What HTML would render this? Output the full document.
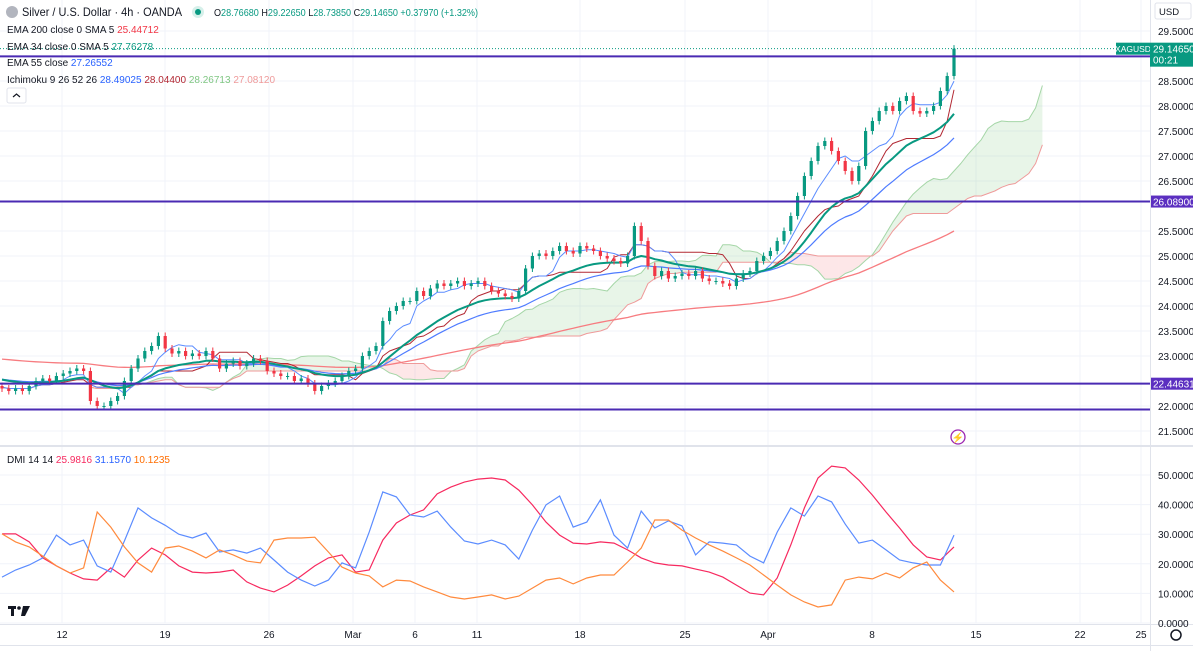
<!DOCTYPE html>
<html><head><meta charset="utf-8">
<style>
html,body{margin:0;padding:0;background:#fff;width:1193px;height:651px;overflow:hidden;font-family:"Liberation Sans",sans-serif;}
svg{display:block}
text{font-family:"Liberation Sans",sans-serif;}
</style></head>
<body>
<svg id="chart" width="1193" height="651" viewBox="0 0 1193 651">
  <g id="grid"></g>
  <g id="cloud"></g>
  <g id="lines"></g>
  <g id="candles"></g>
  <g id="levels"></g>
  <g id="dmi"></g>
  <g id="axes"></g>
  <g id="legend">
    <circle cx="12" cy="12" r="6" fill="#b2b5be"/>
    <text x="22" y="16" font-size="12" fill="#131722" textLength="160" lengthAdjust="spacingAndGlyphs">Silver / U.S. Dollar · 4h · OANDA</text>
    <circle cx="198" cy="12" r="6" fill="#d6f0ea"/>
    <circle cx="198" cy="12" r="3" fill="#089981"/>
    <text x="214" y="16" font-size="10.5" fill="#089981" textLength="264" lengthAdjust="spacingAndGlyphs"><tspan fill="#131722">O</tspan>28.76680 <tspan fill="#131722">H</tspan>29.22650 <tspan fill="#131722">L</tspan>28.73850 <tspan fill="#131722">C</tspan>29.14650 +0.37970 (+1.32%)</text>
    <text x="7" y="33" font-size="10" fill="#131722">EMA 200 close 0 SMA 5 <tspan fill="#f23645">25.44712</tspan></text>
    <text x="7" y="50" font-size="10" fill="#131722">EMA 34 close 0 SMA 5 <tspan fill="#089981">27.76278</tspan></text>
    <text x="7" y="66" font-size="10" fill="#131722">EMA 55 close <tspan fill="#2962ff">27.26552</tspan></text>
    <text x="7" y="83" font-size="10" fill="#131722">Ichimoku 9 26 52 26 <tspan fill="#2962ff">28.49025</tspan> <tspan fill="#b22833">28.04400</tspan> <tspan fill="#81c784">28.26713</tspan> <tspan fill="#ef9a9a">27.08120</tspan></text>
    <rect x="7" y="88" width="19" height="15" rx="2" fill="#fff" stroke="#e0e3eb"/>
    <path d="M13 97 L16.5 94 L20 97" fill="none" stroke="#131722" stroke-width="1.2"/>
    <text x="7" y="463" font-size="10" fill="#131722">DMI 14 14 <tspan fill="#f7295f">25.9816</tspan> <tspan fill="#2962ff">31.1570</tspan> <tspan fill="#ff6d00">10.1235</tspan></text>
    <g>
      <rect x="8" y="606" width="8" height="3" fill="#131722"/>
      <rect x="11" y="606" width="3" height="10" fill="#131722"/>
      <circle cx="19" cy="608" r="1.8" fill="#131722"/>
      <path d="M23 606 L30 606 L25 616 L21 616 Z" fill="#131722"/>
    </g>
    <circle cx="958" cy="437" r="7" fill="#fff" stroke="#9c27b0" stroke-width="1.3"/>
    <text x="958" y="441" font-size="10" fill="#9c27b0" text-anchor="middle">⚡</text>
  </g>
</svg>
<script>
// ---- price data (2-bar candles) ----
const closes = [22.35,22.3,22.35,22.3,22.4,22.5,22.55,22.5,22.6,22.65,
22.7,22.75,22.7,22.1,22.0,22.0,22.1,22.2,22.5,22.75,
22.95,23.1,23.2,23.4,23.15,23.05,23.1,23.0,23.05,23.0,
23.1,22.95,22.75,22.85,22.9,22.8,22.85,22.95,22.9,22.7,
22.65,22.6,22.6,22.5,22.55,22.45,22.3,22.4,22.45,22.5,
22.6,22.7,22.75,23.0,23.1,23.2,23.7,23.9,24.0,24.1,
24.1,24.3,24.2,24.35,24.45,24.4,24.45,24.5,24.4,24.45,
24.5,24.4,24.3,24.25,24.2,24.15,24.3,24.75,25.0,25.05,
25.0,25.1,25.2,25.1,25.05,25.2,25.15,25.1,25.0,24.95,
24.9,24.85,25.0,25.6,25.3,24.8,24.6,24.7,24.55,24.6,
24.65,24.6,24.7,24.55,24.5,24.5,24.45,24.4,24.55,24.65,
24.7,24.9,25.0,25.1,25.3,25.5,25.8,26.2,26.6,26.9,
27.2,27.3,27.1,26.9,26.7,26.5,26.8,27.5,27.7,27.9,
28.0,27.9,28.1,28.2,27.9,27.85,27.9,28.0,28.3,28.6,29.1465];
const firstOpen = 22.4;
const levelPrices = [28.9934, 26.089, 22.44631, 21.93];
const levelLabels = ["28.99340","26.08900","22.44631",""];
const priceTicks = [29.5,28.5,28.0,27.5,27.0,26.5,25.5,25.0,24.5,24.0,23.5,23.0,22.0,21.5];
const dateLabels = ["12","19","26","Mar","6","11","18","25","Apr","8","15","22","25"];
const dateX = [62,165,269,353,415,477,580,685,768,872,976,1080,1141];
// ---- DMI data (sampled every 2 candles) ----
const diPlus = [15.5,17.9,19.6,22,29.7,26.4,28,19.3,17.2,27.7,38.9,35.5,33,30,28.7,30.4,24,24.7,23.6,25.3,21.3,17.2,14.5,12.5,14.5,20.3,18.6,30.7,44.3,42.6,36.5,35.8,37.8,32.4,27.7,26.7,28,26.4,21.6,31.4,39.9,42.9,32.4,34.1,41.6,29.7,25.3,37.8,32.1,34.5,32.8,23,27.4,27,26.4,22.6,20.3,30.7,38.9,36.1,42.9,40.9,33.4,27,28,24.7,21.3,20.3,19.6,19.6,29.7];
const adx = [30.1,30.1,27.4,22,19.3,16.9,14.9,14.5,18.6,15.5,21.3,25.3,23,19.3,17.2,16.9,17.2,17.9,13.9,11.8,10.5,12.8,15.9,19.3,22,23,17.2,17.9,28,33.8,36.5,38.2,43.6,45.9,47.6,48.6,49,48.3,44.9,39.9,34.1,29.7,27,26.7,27.4,27,24.7,22,20.3,19.6,19.3,18.2,17.2,15.5,12.8,10.1,9.5,15.2,26.4,38.9,49,53,52.4,48.3,43.2,37.5,32.1,26.4,22.3,21.3,25.7];
const diMinus = [30.1,27.4,25.7,22.6,19.3,16.9,18.6,37.5,32.4,25.7,20.3,17.2,25.3,26,24.3,22,24.7,23,20.9,20.3,28,28.7,28.7,29,24,18.9,16.9,15.9,12.2,14.5,14.2,12.2,10.5,8.8,8.1,8.8,9.5,8.1,9.1,11.8,14.5,15.2,13.2,15.2,16.2,16.2,20.6,25.3,34.8,34.8,31.4,28.7,26.4,24.3,22,19.6,16.2,12.8,9.5,7.1,5.4,6.1,14.5,15.5,14.9,16.9,15.2,18.6,20.6,14.5,10.5];
const dmiTicks = [50,40,30,20,10,0];

const NS="http://www.w3.org/2000/svg";
const X0=2, BW=6.8, PLOT_R=1150;
const xAt = i => X0 + i*BW;
const yP = p => 106 - (p-28)*50;
const yD = v => 623 - v*2.96;
function mk(tag, attrs, parent){const e=document.createElementNS(NS,tag);for(const k in attrs)e.setAttribute(k,attrs[k]);parent.appendChild(e);return e;}
const G=id=>document.getElementById(id);

// grid
const grid=G('grid');
dateX.forEach(x=>{const l=mk('line',{x1:x,x2:x,y1:0,y2:623,stroke:'#f0f3fa'},grid);

});
priceTicks.forEach(p=>{const l=mk('line',{x1:0,x2:PLOT_R,y1:yP(p),y2:yP(p),stroke:'#f0f3fa'},grid);

});
dmiTicks.forEach(v=>{const l=mk('line',{x1:0,x2:PLOT_R,y1:yD(v),y2:yD(v),stroke:'#f0f3fa'},grid);

});

// OHLC derived
const opens=closes.map((c,i)=>i===0?firstOpen:closes[i-1]);
const highs=closes.map((c,i)=>Math.max(c,opens[i])+0.07);
const lows=closes.map((c,i)=>Math.min(c,opens[i])-0.07);

// EMAs
function ema(period, seed){let e=seed;return closes.map(c=>(e=e+(c-e)*2/(period+1)));}
const ema200=ema(100,22.95), ema34=ema(17,22.55), ema55=ema(27,22.55);
function hl(n,i){let h=-1e9,l=1e9;for(let k=Math.max(0,i-n+1);k<=i;k++){h=Math.max(h,highs[k]);l=Math.min(l,lows[k]);}return (h+l)/2;}
const tenkan=closes.map((c,i)=>hl(5,i)), kijun=closes.map((c,i)=>hl(13,i));
const spanA=closes.map((c,i)=>(tenkan[i]+kijun[i])/2), spanB=closes.map((c,i)=>hl(26,i));
const SHIFT=13;

// cloud
const cloud=G('cloud');
for(let i=0;i<closes.length-1;i++){
  const xa=xAt(i+SHIFT), xb=xAt(i+1+SHIFT);
  const up=spanA[i]>=spanB[i];
  const p=mk('polygon',{points:`${xa},${yP(spanA[i])} ${xb},${yP(spanA[i+1])} ${xb},${yP(spanB[i+1])} ${xa},${yP(spanB[i])}`,fill:up?'rgba(76,175,80,0.13)':'rgba(242,54,69,0.12)'},cloud);
  
  
}
function path(arr, shift, color, w, parent, name, yf){
  const d=arr.map((v,i)=>(i?'L':'M')+xAt(i+shift).toFixed(1)+' '+yf(v).toFixed(1)).join(' ');
  const p=mk('path',{d:d,fill:'none',stroke:color,'stroke-width':w,'stroke-linejoin':'round'},parent);
  
  
}
const lines=G('lines');
path(spanA,SHIFT,'#a5d6a7',1,lines,'senkou-span-a',yP);
path(spanB,SHIFT,'#ef9a9a',1,lines,'senkou-span-b',yP);
path(ema200,0,'#f77c80',1.3,lines,'ema-200-line',yP);
path(kijun,0,'#b22833',1,lines,'kijun-line',yP);
path(tenkan,0,'#5b8cff',1,lines,'tenkan-line',yP);
path(ema55,0,'#4f7cff',1.2,lines,'ema-55-line',yP);
path(ema34,0,'#089981',2,lines,'ema-34-line',yP);

// candles
const cg=G('candles');
closes.forEach((c,i)=>{
  const o=opens[i], up=c>=o, col=up?'#089981':'#f23645', x=xAt(i);
  const w=mk('line',{x1:x,x2:x,y1:yP(highs[i]),y2:yP(lows[i]),stroke:col,'stroke-width':1},cg);
  
  
  const top=yP(Math.max(o,c)), h=Math.max(1,Math.abs(yP(o)-yP(c)));
  const b=mk('rect',{x:x-1.6,y:top,width:3.2,height:h,fill:col},cg);
  
  
});

// levels
const lv=G('levels');
const lastY=yP(closes[closes.length-1]);
const dl=mk('line',{x1:0,x2:PLOT_R,y1:lastY,y2:lastY,stroke:'#089981','stroke-dasharray':'1 2','stroke-width':1},lv);


levelPrices.forEach((p,k)=>{
  const l=mk('line',{x1:0,x2:PLOT_R,y1:yP(p),y2:yP(p),stroke:'#4a2ab3','stroke-width':2},lv);
  
  
  if(levelLabels[k]){
    const r=mk('rect',{x:PLOT_R,y:yP(p)-6,width:43,height:12,fill:'#5b2fc0'},lv);
    
    
    const t=mk('text',{x:PLOT_R+3,y:yP(p)+4,'font-size':10,fill:'#fff'},lv);
    t.textContent=levelLabels[k];
    
    
  }
});

// DMI
const dm=G('dmi');
const dmiX=i=>X0+i*2*BW;
function dpath(arr,color,name){
  const d=arr.map((v,i)=>(i?'L':'M')+dmiX(i).toFixed(1)+' '+yD(v).toFixed(1)).join(' ');
  const p=mk('path',{d:d,fill:'none',stroke:color,'stroke-width':1.2},dm);
  
  
}
dpath(adx,'#f7295f','adx-line');
dpath(diPlus,'#5b8cff','di-plus-line');
dpath(diMinus,'#ff8a3d','di-minus-line');

// axes
const ax=G('axes');
const sep=mk('line',{x1:0,x2:1193,y1:446,y2:446,stroke:'#e0e3eb','stroke-width':2},ax);


const va=mk('line',{x1:PLOT_R+0.5,x2:PLOT_R+0.5,y1:0,y2:651,stroke:'#e0e3eb'},ax);


const ha=mk('line',{x1:0,x2:1193,y1:624.5,y2:624.5,stroke:'#e0e3eb'},ax);


const hb=mk('line',{x1:0,x2:1193,y1:645.5,y2:645.5,stroke:'#e0e3eb'},ax);


priceTicks.forEach(p=>{
  const t=mk('text',{x:1158,y:yP(p)+4,'font-size':10,fill:'#131722'},ax);
  t.textContent=p.toFixed(5);
  
  
});
dmiTicks.forEach(v=>{
  const t=mk('text',{x:1158,y:yD(v)+4,'font-size':10,fill:'#131722'},ax);
  t.textContent=v.toFixed(4);
  
  
});
dateLabels.forEach((s,k)=>{
  const t=mk('text',{x:dateX[k],y:638,'font-size':10,fill:'#131722','text-anchor':'middle'},ax);
  t.textContent=s;
  
  
});
// currency box
const cb=mk('rect',{x:1155,y:3,width:36,height:16,rx:2,fill:'#fff',stroke:'#e0e3eb'},ax);


const ct=mk('text',{x:1159,y:15,'font-size':9.5,fill:'#131722'},ax);
ct.textContent='USD';


// last price labels
const sl=mk('rect',{x:1116,y:lastY-6,width:34,height:12,fill:'#089981'},ax);


const st=mk('text',{x:1133,y:lastY+3.5,'font-size':8.5,fill:'#fff','text-anchor':'middle'},ax);
st.textContent='XAGUSD';


const pl=mk('rect',{x:PLOT_R,y:lastY-6,width:43,height:24,fill:'#089981'},ax);


const pt=mk('text',{x:PLOT_R+3,y:lastY+4,'font-size':10,fill:'#fff'},ax);
pt.textContent='29.14650';


const cd=mk('text',{x:PLOT_R+3,y:lastY+15,'font-size':10,fill:'#fff'},ax);
cd.textContent='00:21';


const gear=mk('circle',{cx:1176,cy:635,r:5,fill:'none',stroke:'#131722','stroke-width':1.5},ax);


</script>
</body></html>
